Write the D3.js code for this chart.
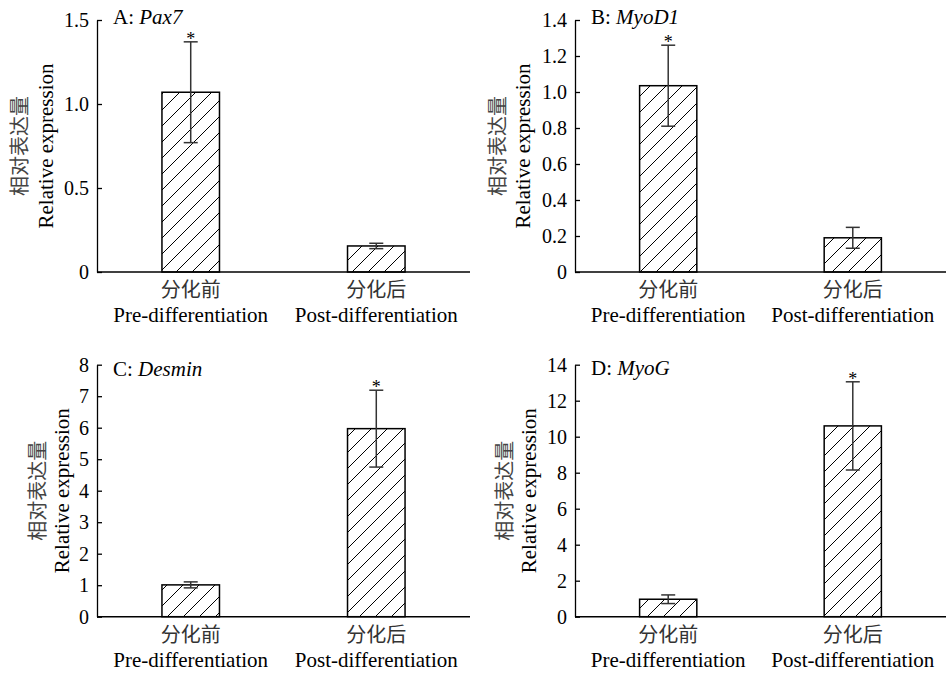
<!DOCTYPE html>
<html>
<head>
<meta charset="utf-8">
<script src="https://cdn.jsdelivr.net/npm/d3@7"></script>
<style>
  body { margin: 0; background: #fff; }
  svg { display: block; }
  svg text { font-family: "Liberation Serif", "Times New Roman", serif; }
  svg text.cjk { font-family: "Noto Sans CJK SC", sans-serif; }
</style>
</head>
<body>
<div id="chart"></div>
<script>
// ---- data ----
var panelLetters = ["A", "B", "C", "D"];
var geneNames = ["Pax7", "MyoD1", "Desmin", "MyoG"];
var categoriesZh = ["分化前", "分化后"];
var categoriesEn = ["Pre-differentiation", "Post-differentiation"];
var meanValues = [[1.07, 0.155], [1.035, 0.19], [1.01, 5.97], [0.97, 10.6]];
var errorValues = [[0.30, 0.016], [0.225, 0.058], [0.095, 1.22], [0.24, 2.45]];
var significant = [[true, false], [true, false], [false, true], [false, true]];
var yMaxValues = [1.5, 1.4, 8, 14];
var yTickValues = [
  [0, 0.5, 1.0, 1.5],
  [0, 0.2, 0.4, 0.6, 0.8, 1.0, 1.2, 1.4],
  [0, 1, 2, 3, 4, 5, 6, 7, 8],
  [0, 2, 4, 6, 8, 10, 12, 14]
];
var yTickLabels = [
  ["0", "0.5", "1.0", "1.5"],
  ["0", "0.2", "0.4", "0.6", "0.8", "1.0", "1.2", "1.4"],
  ["0", "1", "2", "3", "4", "5", "6", "7", "8"],
  ["0", "2", "4", "6", "8", "10", "12", "14"]
];
var yLabelZh = "相对表达量";
var yLabelEn = "Relative expression";

// ---- layout ----
var width = 946, height = 673;
var panels = [
  {axisX: 97,  top: 20,    bottom: 272,   right: 470, zhX: 18,  enX: 46,  titleDy: 4},
  {axisX: 575, top: 20,    bottom: 272,   right: 946, zhX: 496, enX: 523, titleDy: 4},
  {axisX: 97,  top: 364.7, bottom: 616.7, right: 470, zhX: 36,  enX: 62,  titleDy: 11},
  {axisX: 575, top: 364.7, bottom: 616.7, right: 946, zhX: 503, enX: 529, titleDy: 10}
];

var svg = d3.select("#chart").append("svg")
  .attr("width", width)
  .attr("height", height);

// hatch pattern
var defs = svg.append("defs");
defs.append("pattern")
  .attr("id", "hatch")
  .attr("patternUnits", "userSpaceOnUse")
  .attr("width", 16).attr("height", 16)
  .append("path")
  .attr("d", "M0,16 L16,0 M-4,4 L4,-4 M12,20 L20,12")
  .attr("stroke", "#000")
  .attr("stroke-width", 1);

panels.forEach(function(p, i) {
  var g = svg.append("g");

  var x = d3.scaleBand()
    .domain(categoriesEn)
    .range([p.axisX, p.right])
    .paddingInner(0.69)
    .paddingOuter(0.35);

  var y = d3.scaleLinear()
    .domain([0, yMaxValues[i]])
    .range([p.bottom, p.top]);

  // y axis, ticks pointing inward
  var yAxis = d3.axisLeft(y)
    .tickValues(yTickValues[i])
    .tickFormat(function(d, k) { return yTickLabels[i][k]; })
    .tickSizeInner(-5)
    .tickSizeOuter(0)
    .tickPadding(8);
  var ya = g.append("g")
    .attr("transform", "translate(" + p.axisX + ",0)")
    .call(yAxis);
  ya.attr("font-size", 20);
  ya.select(".domain").attr("stroke", "#000").attr("stroke-width", 1.3);
  ya.selectAll(".tick line").attr("stroke", "#000").attr("stroke-width", 1.3);
  ya.selectAll(".tick text").attr("fill", "#000");

  // bars
  var rows = categoriesEn.map(function(c, k) {
    return {cat: c, zh: categoriesZh[k], v: meanValues[i][k], e: errorValues[i][k], sig: significant[i][k]};
  });

  g.selectAll("rect.bg").data(rows).enter().append("rect")
    .attr("x", function(d) { return x(d.cat); })
    .attr("y", function(d) { return y(d.v); })
    .attr("width", x.bandwidth())
    .attr("height", function(d) { return y(0) - y(d.v); })
    .attr("fill", "#fff");
  g.selectAll("rect.bar").data(rows).enter().append("rect")
    .attr("x", function(d) { return x(d.cat); })
    .attr("y", function(d) { return y(d.v); })
    .attr("width", x.bandwidth())
    .attr("height", function(d) { return y(0) - y(d.v); })
    .attr("fill", "url(#hatch)")
    .attr("stroke", "#000")
    .attr("stroke-width", 1.5);

  // x axis line
  g.append("line")
    .attr("x1", p.axisX).attr("x2", p.right)
    .attr("y1", y(0)).attr("y2", y(0))
    .attr("stroke", "#000").attr("stroke-width", 1.5);

  // error bars
  var cap = 7;
  rows.forEach(function(d) {
    var cx = x(d.cat) + x.bandwidth() / 2;
    var eg = g.append("g").attr("stroke", "#333").attr("stroke-width", 1.5);
    eg.append("line").attr("x1", cx).attr("x2", cx)
      .attr("y1", y(d.v - d.e)).attr("y2", y(d.v + d.e));
    eg.append("line").attr("x1", cx - cap).attr("x2", cx + cap)
      .attr("y1", y(d.v + d.e)).attr("y2", y(d.v + d.e));
    eg.append("line").attr("x1", cx - cap).attr("x2", cx + cap)
      .attr("y1", y(d.v - d.e)).attr("y2", y(d.v - d.e));
    if (d.sig) {
      g.append("text")
        .attr("font-size", 18)
        .attr("x", cx).attr("y", y(d.v + d.e) + 3)
        .attr("text-anchor", "middle")
        .text("*");
    }
    // category labels
    g.append("text")
      .attr("class", "cjk")
      .attr("font-size", 20)
      .attr("x", cx).attr("y", y(0) + 25)
      .attr("text-anchor", "middle")
      .attr("fill", "#333")
      .text(d.zh);
    g.append("text")
      .attr("font-size", 21)
      .attr("x", cx).attr("y", y(0) + 50)
      .attr("text-anchor", "middle")
      .attr("fill", "#000")
      .text(d.cat);
  });

  // panel title
  var t = g.append("text")
    .attr("font-size", 21)
    .attr("x", p.axisX + 16)
    .attr("y", p.top + p.titleDy);
  t.append("tspan").text(panelLetters[i] + ": ");
  t.append("tspan").attr("font-style", "italic").text(geneNames[i]);

  // y label (two lines)
  var cy = (p.top + p.bottom) / 2;
  g.append("text")
    .attr("class", "cjk")
    .attr("font-size", 20)
    .attr("transform", "translate(" + p.zhX + "," + cy + ") rotate(-90)")
    .attr("text-anchor", "middle")
    .attr("dominant-baseline", "central")
    .attr("fill", "#444")
    .text(yLabelZh);
  g.append("text")
    .attr("font-size", 21)
    .attr("transform", "translate(" + p.enX + "," + cy + ") rotate(-90)")
    .attr("text-anchor", "middle")
    .attr("dominant-baseline", "central")
    .attr("fill", "#000")
    .text(yLabelEn);
});
</script>
</body>
</html>
